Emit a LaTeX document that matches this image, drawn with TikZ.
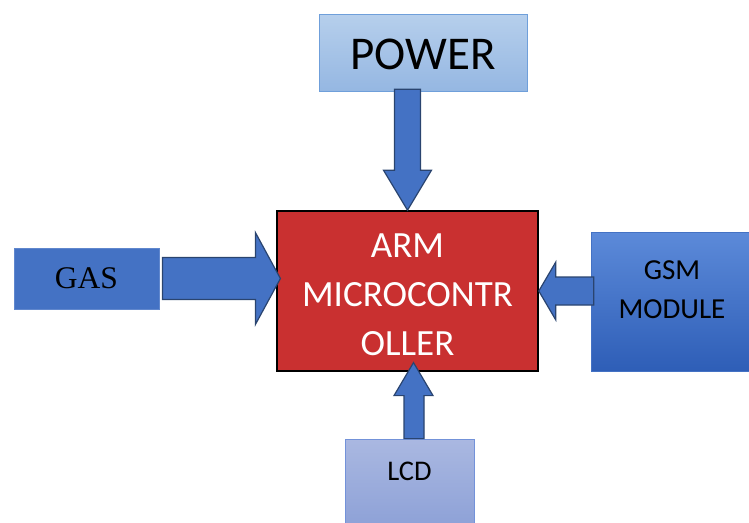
\documentclass[tikz,border=0pt]{standalone}
\usepackage{fontspec}
\setmainfont{Carlito}
\newfontfamily\gasfont{Liberation Serif}
\usetikzlibrary{calc}

\definecolor{powertop}{HTML}{B6CFEC}
\definecolor{powerbot}{HTML}{95B7E2}
\definecolor{powerline}{HTML}{6F9FDA}
\definecolor{armfill}{HTML}{C93030}
\definecolor{blockblue}{HTML}{4472C4}
\definecolor{gsmtop}{HTML}{5C8AD9}
\definecolor{gsmbot}{HTML}{2E5EB7}
\definecolor{lcdtop}{HTML}{AAB8E1}
\definecolor{lcdbot}{HTML}{8DA1D7}
\definecolor{lcdline}{HTML}{7392D9}
\definecolor{arrowline}{HTML}{2A446F}

\begin{document}
\begin{tikzpicture}[x=1pt, y=-1pt]
  % Define box and arrow styles
  \tikzstyle{blockbox} = [rectangle, inner sep=0pt, line width=0.8pt]
  \tikzstyle{powerbox} = [blockbox, draw=powerline, top color=powertop,
  bottom color=powerbot, minimum width=208pt, minimum height=77pt]
  \tikzstyle{armbox} = [blockbox, draw=black, line width=1.6pt, fill=armfill,
  minimum width=261pt, minimum height=160pt]
  \tikzstyle{gasbox} = [blockbox, draw=blockblue!85!white, fill=blockblue,
  minimum width=145pt, minimum height=61pt]
  \tikzstyle{gsmbox} = [blockbox, draw=blockblue, top color=gsmtop,
  bottom color=gsmbot, minimum width=160pt, minimum height=139pt]
  \tikzstyle{lcdbox} = [blockbox, draw=lcdline, top color=lcdtop,
  bottom color=lcdbot, minimum width=129pt, minimum height=88pt]
  \tikzstyle{boxtext} = [inner sep=0pt, align=center]
  \tikzstyle{fatarrow} = [draw=arrowline, fill=blockblue, line width=1.2pt]

  \useasboundingbox (0,0) rectangle (749,522);

  % Boxes
  \node[powerbox, text height=35pt, font=\fontsize{47}{50}\selectfont]
    (power) at (423,52.5) {POWER};
  \node[armbox] (arm) at (407.5,291) {};
  \node[boxtext, text=white, font=\fontsize{37}{49}\selectfont] (armtext)
    at (407.5,295) {ARM\\MICROCONTR\\OLLER};
  \node[gasbox, font=\gasfont\fontsize{31.5}{34}\selectfont] (gas)
    at (86.5,278.5) {GAS};
  \node[gsmbox] (gsm) at (671,301.5) {};
  \node[boxtext, font=\fontsize{29}{39}\selectfont] (gsmtext) at (672,290)
    {GSM\\MODULE};
  \node[lcdbox] (lcd) at (409.5,483) {};
  \node[boxtext, font=\fontsize{28.5}{30}\selectfont] (lcdtext)
    at ($(lcd.north)+(0,33)$) {LCD};

  % Block arrows
  \draw[fatarrow] (arm.north) -- ++(-24,-40) -- ++(11,0) -- ++(0,-81)
    -- ++(26,0) -- ++(0,81) -- ++(11,0) -- cycle;
  \draw[fatarrow] ($(gas.east)+(3,-21)$) -- ++(93,0) -- ++(0,-25)
    -- ++(25,46) -- ++(-25,46) -- ++(0,-25) -- ++(-93,0) -- cycle;
  \draw[fatarrow] (arm.east) -- ++(17,-29) -- ++(0,15) -- ++(38,0)
    -- ++(0,28) -- ++(-38,0) -- ++(0,15) -- cycle;
  \draw[fatarrow] ($(lcd.north)+(-5.5,0)$) -- ++(0,-43) -- ++(-10,0)
    -- ++(19.5,-33) -- ++(19.5,33) -- ++(-9,0) -- ++(0,43) -- cycle;
\end{tikzpicture}
\end{document}
